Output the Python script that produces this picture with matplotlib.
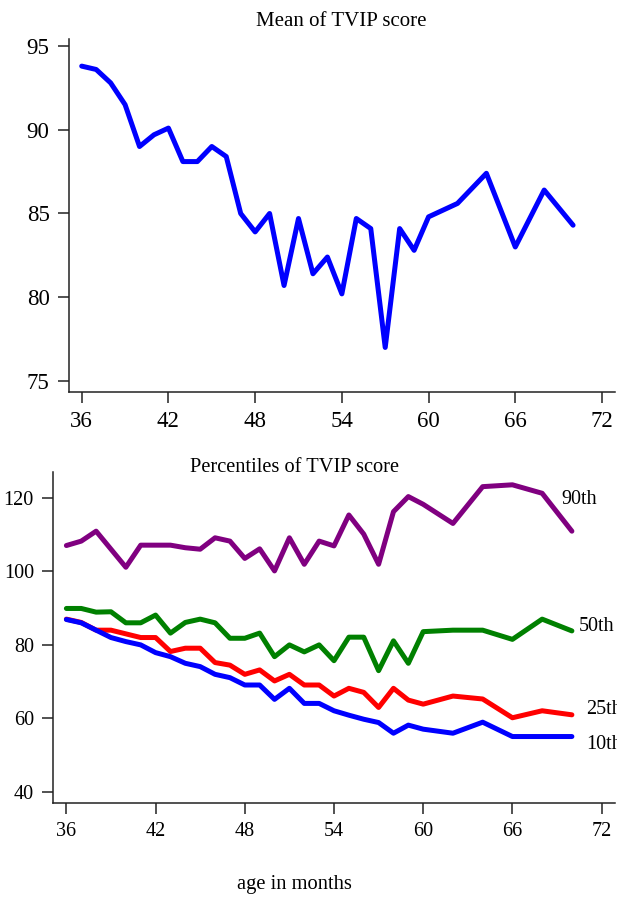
import matplotlib
matplotlib.use("Agg")
import matplotlib.pyplot as plt

plt.rcParams['font.family'] = ['Liberation Serif', 'DejaVu Serif']

months = [36, 37, 38, 39, 40, 41, 42, 43, 44, 45, 46, 47, 48, 49, 50, 51, 52,
          53, 54, 55, 56, 57, 58, 59, 60, 62, 64, 66, 68, 70]

mean_score = [93.8, 93.6, 92.8, 91.5, 89.0, 89.7, 90.1, 88.1, 88.1, 89.0, 88.4,
              85.0, 83.9, 85.0, 80.7, 84.7, 81.4, 82.4, 80.2, 84.7, 84.1, 77.0,
              84.1, 82.8, 84.8, 85.6, 87.4, 83.0, 86.4, 84.3]

p90 = [107.0, 108.2, 110.9, 106.0, 101.1, 107.1, 107.1, 107.1, 106.4, 106.0,
       109.1, 108.2, 103.5, 106.1, 100.1, 109.1, 101.9, 108.2, 106.9, 115.3,
       110.1, 101.9, 116.2, 120.3, 118.2, 113.0, 123.0, 123.5, 121.2, 110.9]
p50 = [89.9, 89.9, 88.9, 89.0, 86.0, 86.0, 88.1, 83.2, 86.1, 87.0, 86.0, 81.8,
       81.8, 83.2, 76.8, 80.0, 78.1, 80.0, 75.7, 82.1, 82.1, 73.0, 81.1, 75.0,
       83.6, 84.0, 84.0, 81.5, 87.0, 83.8]
p25 = [87.0, 86.1, 84.0, 84.0, 83.0, 82.0, 82.0, 78.2, 79.1, 79.1, 75.2, 74.5,
       72.0, 73.2, 70.2, 72.0, 69.1, 69.1, 66.1, 68.2, 67.1, 63.0, 68.2, 65.0,
       63.9, 66.1, 65.3, 60.2, 62.1, 61.0]
p10 = [86.9, 86.0, 84.0, 82.0, 80.9, 80.0, 77.9, 76.8, 75.0, 74.1, 72.0, 71.1,
       69.1, 69.1, 65.2, 68.2, 64.1, 64.1, 62.1, 60.9, 59.8, 58.9, 56.0, 58.2,
       57.1, 56.0, 59.0, 55.1, 55.1, 55.1]

pct_labels = ["90th", "50th", "25th", "10th"]
pct_series = [p90, p50, p25, p10]
pct_colors = ["#800080", "#008000", "#ff0000", "#0000ff"]
label_pos = [(69.26, 119.6), (70.47, 85.1), (70.99, 62.5), (70.99, 53.0)]

xticks = [36, 42, 48, 54, 60, 66, 72]
top_yticks = [75, 80, 85, 90, 95]
bot_yticks = [40, 60, 80, 100, 120]

W, H = 617, 899
fig = plt.figure(figsize=(W / 100, H / 100), dpi=100)

def style(ax, fs):
    for s in ["top", "right"]:
        ax.spines[s].set_visible(False)
    for s in ["left", "bottom"]:
        ax.spines[s].set_linewidth(1.1)
        ax.spines[s].set_color("#222222")
    ax.tick_params(direction="out", length=8, width=1.1, labelsize=fs,
                   color="#222222", pad=6)

# Top panel
ax1 = fig.add_axes([69 / W, 1 - 392 / H, (615 - 69) / W, (392 - 39) / H])
ax1.plot(months, mean_score, color="#0000ff", lw=3.6,
         solid_capstyle="round", solid_joinstyle="round")
ax1.set_xlim(35.12, 72.9)
ax1.set_ylim(74.34, 95.42)
ax1.set_xticks(xticks)
ax1.set_yticks(top_yticks)
style(ax1, 16.5)
fig.text(341 / W, 1 - 22 / H, "Mean of TVIP score", ha="center", va="center",
         fontsize=15)

# Bottom panel
ax2 = fig.add_axes([53.3 / W, 1 - 802.7 / H, (615 - 53.3) / W, (802.7 - 472) / H])
for vals, col in zip(pct_series, pct_colors):
    ax2.plot(months, vals, color=col, lw=3.6,
             solid_capstyle="round", solid_joinstyle="round")
for lab, (lx, ly), col in zip(pct_labels, label_pos, pct_colors):
    ax2.text(lx, ly, lab, ha="left", va="center", fontsize=14.5, clip_on=False)
ax2.set_xlim(35.12, 72.9)
ax2.set_ylim(37.12, 126.98)
ax2.set_xticks(xticks)
ax2.set_yticks(bot_yticks)
style(ax2, 14.5)
fig.text(294 / W, 1 - 467 / H, "Percentiles of TVIP score", ha="center",
         va="center", fontsize=14.7)
fig.text(294 / W, 1 - 885 / H, "age in months", ha="center", va="center",
         fontsize=14.8)

fig.savefig("out.png", dpi=100)
